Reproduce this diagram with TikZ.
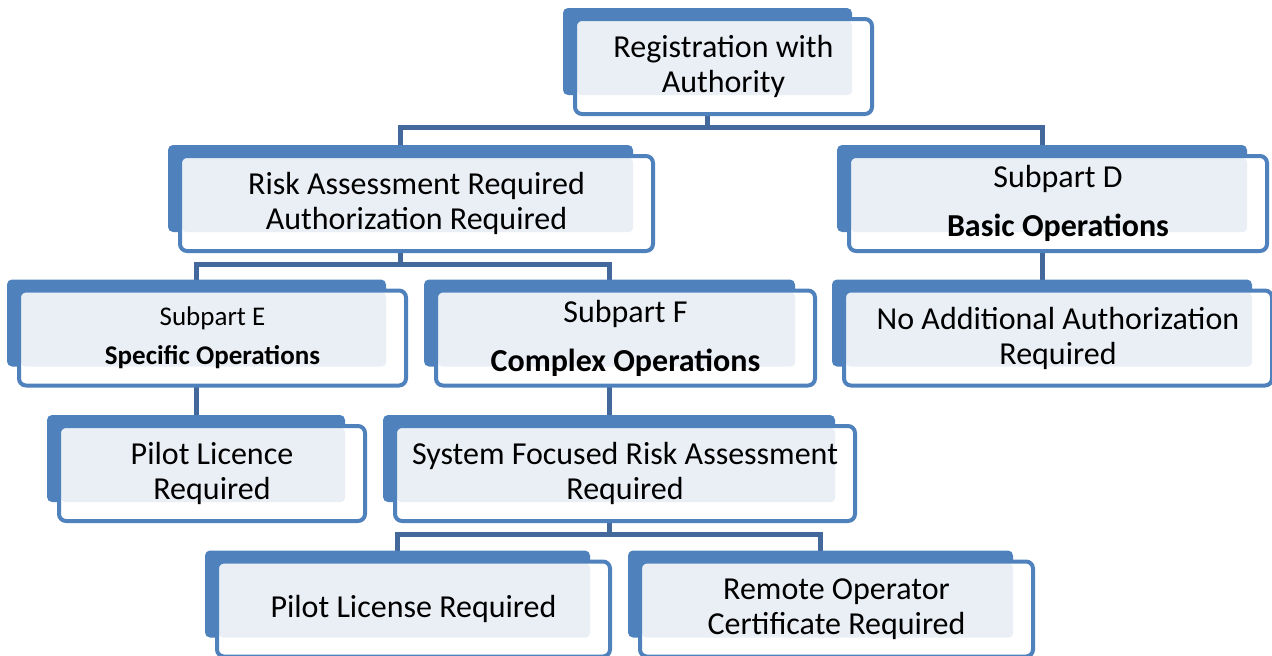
\documentclass[tikz,border=0pt]{standalone}
\usepackage{fontspec}
\setmainfont{Carlito}
\usetikzlibrary{calc}
\usetikzlibrary{backgrounds}
\definecolor{boxblue}{RGB}{79,129,189}
\definecolor{boxfill}{RGB}{234,239,246}
\definecolor{linkblue}{RGB}{66,104,156}
\tikzstyle{backbox}=[rectangle,rounded corners=5pt,fill=boxblue,inner sep=0pt,outer sep=0pt,minimum height=87pt]
\tikzstyle{frontbox}=[rectangle,rounded corners=7pt,draw=boxblue,line width=4pt,fill=white,inner sep=0pt,outer sep=0pt,minimum height=95pt,align=center]
\tikzstyle{connector}=[draw,linkblue,line width=5pt]

\begin{document}
\begin{tikzpicture}[x=1pt,y=-1pt]
\useasboundingbox (0,0) rectangle (1272,656);

   % boxes: back block, then front block with the text
   \foreach \name/\cx/\cy/\w/\fs/\txt in {
        reg/707.5/51.5/289/32/{Registration with\\Authority},
        risk/400.5/188.5/465/32/{Risk Assessment Required\\Authorization Required},
        subd/1042/188.5/410/32/{Subpart D\\[14pt]\textbf{Basic Operations}},
        sube/196.5/323/379/27/{Subpart E\\[4pt]\textbf{Specific Operations}},
        subf/609.5/323/371/32/{Subpart F\\[14pt]\textbf{Complex Operations}},
        noadd/1042/323/420/32/{No Additional Authorization\\Required},
        licence/196/458.5/298/32/{Pilot Licence\\Required},
        sysrisk/609/458.5/452/32/{System Focused Risk Assessment\\Required},
        license/397.5/594/385/32/{Pilot License Required},
        roc/820.5/594/385/32/{Remote Operator\\Certificate Required}}
   {
        \node[backbox,minimum width=\w pt] (\name) at (\cx,\cy) {};
        \node[frontbox,minimum width=\w pt+8pt,font=\fontsize{\fs}{35}\selectfont,
              path picture={\fill[boxfill,rounded corners=4pt]
                 ($(path picture bounding box.north west)+(2,2)$) rectangle (\name.south east);}]
             (\name-f) at (\cx+16,\cy+15) {\txt};
   }

   % connect the boxes
   \begin{scope}[on background layer]
   \foreach \source/\dest in {reg/risk, reg/subd, risk/sube, risk/subf, subd/noadd,
                              sube/licence, subf/sysrisk, sysrisk/license, sysrisk/roc}
          \path[connector] (\source.south) -- ++(0,32) -| (\dest.north);
   \end{scope}

\end{tikzpicture}
\end{document}
